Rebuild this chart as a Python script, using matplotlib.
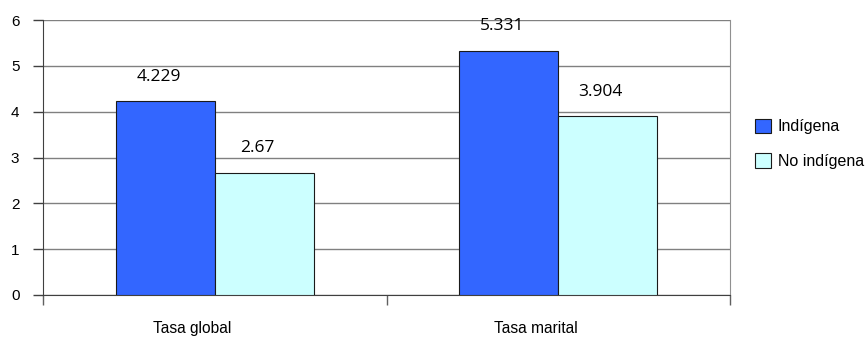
import matplotlib
matplotlib.use("Agg")
import matplotlib.pyplot as plt
import numpy as np

categories = ["Tasa global", "Tasa marital"]
indigena = [4.229, 5.331]
no_indigena = [2.67, 3.904]
labels_ind = ["4.229", "5.331"]
labels_no = ["2.67", "3.904"]

plt.rcParams['font.family'] = ['Liberation Sans', 'DejaVu Sans']

fig = plt.figure(figsize=(8.65, 3.37), dpi=100)
ax = fig.add_axes([43 / 865, 42 / 337, 687 / 865, 275 / 337])

x = np.arange(len(categories))
w = 0.288
b1 = ax.bar(x - w / 2, indigena, w, color='#3366FF', edgecolor='#1a1a1a', linewidth=0.8,
            label='Indígena', zorder=3)
b2 = ax.bar(x + w / 2, no_indigena, w, color='#CCFFFF', edgecolor='#1a1a1a', linewidth=0.8,
            label='No indígena', zorder=3)

for bars, labs in ((b1, labels_ind), (b2, labels_no)):
    for rect, lab in zip(bars, labs):
        ax.annotate(lab, (rect.get_x() + rect.get_width() / 2, rect.get_height()),
                    xytext=(-5, 17.5), textcoords='offset points', ha='center', va='center',
                    fontsize=12.5, family=['Open Sans', 'DejaVu Sans'])

ax.set_xlim(-0.5, 1.5)
ax.set_ylim(0, 6)
ax.set_yticks(range(0, 7))
ax.yaxis.grid(True, color='#808080', linewidth=1.0, zorder=0)
ax.tick_params(axis='y', direction='out', length=7, width=1, color='#404040',
               labelsize=11, pad=10)

ax.set_xticks([-0.5, 0.5, 1.5])
ax.set_xticklabels([])
# category labels sit a little left of the group centre in the original
ax.set_xticks(x - 0.066, minor=True)
ax.set_xticklabels(categories, minor=True)
ax.tick_params(axis='x', which='major', direction='out', length=7, width=1, color='#606060')
ax.tick_params(axis='x', which='minor', length=0, labelsize=11.2, pad=19)

ax.spines['top'].set_visible(False)
ax.spines['right'].set_color('#909090')
ax.spines['left'].set_color('#404040')
ax.spines['bottom'].set_color('#404040')

ax.legend(loc='center left', bbox_to_anchor=(1.015, 0.55), frameon=False, fontsize=11.5,
          handlelength=1.0, handleheight=1.0, handletextpad=0.45, labelspacing=1.2)

fig.savefig("out.png", dpi=100)
